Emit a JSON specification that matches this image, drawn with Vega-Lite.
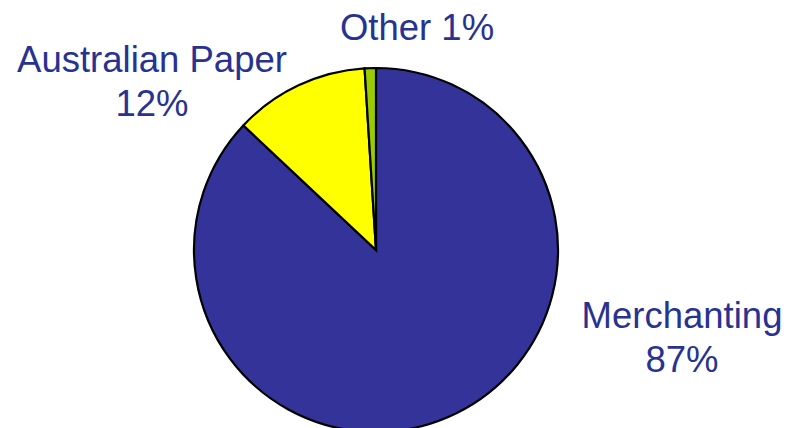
{
  "$schema": "https://vega.github.io/schema/vega-lite/v6.json",
  "width": 752,
  "height": 500,
  "autosize": "none",
  "padding": {"left": 0, "top": 0, "right": 44, "bottom": 0},
  "background": "white",
  "config": {"view": {"stroke": null}},
  "data": {
    "values": [
      {"segment": "Merchanting", "share": 87, "rank": 1, "label": "Merchanting|87%", "lx": 682, "ly": 328},
      {"segment": "Australian Paper", "share": 12, "rank": 2, "label": "Australian Paper|12%", "lx": 152, "ly": 72},
      {"segment": "Other", "share": 1, "rank": 3, "label": "Other 1%", "lx": 417, "ly": 40}
    ]
  },
  "layer": [
    {
      "mark": {"type": "arc", "outerRadius": 182, "stroke": "black", "strokeWidth": 2.2},
      "encoding": {
        "theta": {"field": "share", "type": "quantitative", "stack": true},
        "order": {"field": "rank", "type": "quantitative"},
        "color": {
          "field": "segment",
          "type": "nominal",
          "scale": {"domain": ["Merchanting", "Australian Paper", "Other"], "range": ["#333399", "#FFFF00", "#99CC00"]},
          "legend": null
        }
      }
    },
    {
      "mark": {"type": "text", "align": "center", "baseline": "alphabetic", "font": "Liberation Sans", "fontSize": 36.5, "lineBreak": "|", "lineHeight": 44, "color": "#283290"},
      "encoding": {
        "x": {"field": "lx", "type": "quantitative", "scale": {"domain": [0, 752], "nice": false, "zero": false}, "axis": null},
        "y": {"field": "ly", "type": "quantitative", "scale": {"domain": [0, 500], "nice": false, "zero": false, "reverse": true}, "axis": null},
        "text": {"field": "label"}
      }
    }
  ]
}
